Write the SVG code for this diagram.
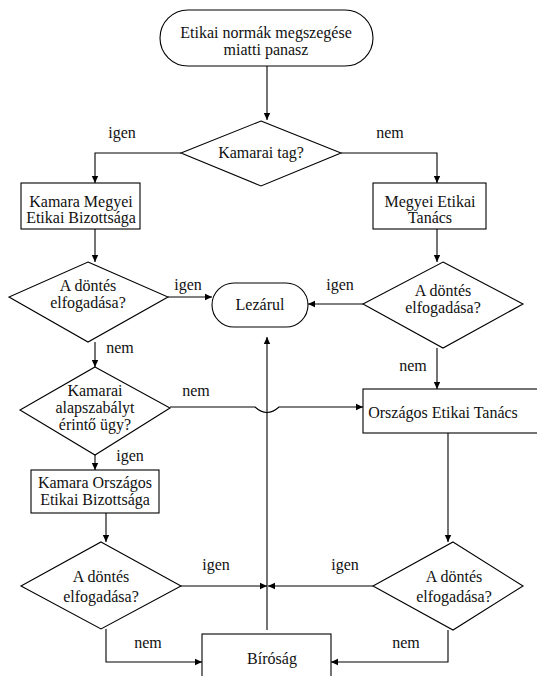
<svg xmlns="http://www.w3.org/2000/svg" width="537" height="676" viewBox="0 0 537 676">
<defs>
<marker id="ah" markerWidth="8" markerHeight="8" refX="7" refY="4" orient="auto" markerUnits="userSpaceOnUse">
<path d="M0,0.8 L7,4 L0,7.2 Z" fill="#000"/>
</marker>
<style>
.s{fill:#fff;stroke:#000;stroke-width:1.1}
.c{fill:none;stroke:#000;stroke-width:1.1}
text{font-family:"Liberation Serif","Times New Roman",serif;font-size:16px;fill:#111;text-anchor:middle}
</style>
</defs>
<rect width="537" height="676" fill="#fff"/>
<g id="connectors">
<path class="c" d="M267,66 V120" marker-end="url(#ah)"/>
<path class="c" d="M181,153 H95 V183" marker-end="url(#ah)"/>
<path class="c" d="M341,153 H437 V183" marker-end="url(#ah)"/>
<path class="c" d="M95,229 V262" marker-end="url(#ah)"/>
<path class="c" d="M437,229 V262" marker-end="url(#ah)"/>
<path class="c" d="M168,297 H212" marker-end="url(#ah)"/>
<path class="c" d="M363,304 H308" marker-end="url(#ah)"/>
<path class="c" d="M95,342 V367" marker-end="url(#ah)"/>
<path class="c" d="M437,348 V389" marker-end="url(#ah)"/>
<path class="c" d="M170,407 H255 Q267,418 279,407 H363" marker-end="url(#ah)"/>
<path class="c" d="M95,455 V470" marker-end="url(#ah)"/>
<path class="c" d="M106,513 V542" marker-end="url(#ah)"/>
<path class="c" d="M448,433 V542" marker-end="url(#ah)"/>
<path class="c" d="M181,586 H267" marker-end="url(#ah)"/>
<path class="c" d="M373,586 H268" marker-end="url(#ah)"/>
<path class="c" d="M267,630 V337" marker-end="url(#ah)"/>
<path class="c" d="M106,629 V662 H202" marker-end="url(#ah)"/>
<path class="c" d="M448,630 V662 H331" marker-end="url(#ah)"/>
</g>
<g id="labels">
<text x="122" y="138">igen</text>
<text x="390" y="138">nem</text>
<text x="188" y="290">igen</text>
<text x="340" y="290">igen</text>
<text x="120" y="353">nem</text>
<text x="413" y="371">nem</text>
<text x="196" y="396">nem</text>
<text x="130" y="461">igen</text>
<text x="216" y="570">igen</text>
<text x="345" y="570">igen</text>
<text x="148" y="648">nem</text>
<text x="406" y="648">nem</text>
</g>
<g id="start">
<rect class="s" x="160" y="10" width="213" height="56" rx="28"/>
<text x="266" y="38">Etikai normák megszegése</text>
<text x="266" y="55">miatti panasz</text>
</g>
<g id="kamarai-tag">
<path class="s" d="M261,121 L341,153 L261,186 L181,153 Z"/>
<text x="261" y="158">Kamarai tag?</text>
</g>
<g id="kamara-megyei">
<rect class="s" x="21" y="183" width="119" height="46"/>
<text x="81" y="207">Kamara Megyei</text>
<text x="81" y="223">Etikai Bizottsága</text>
</g>
<g id="megyei-etikai">
<rect class="s" x="373" y="183" width="113" height="46"/>
<text x="430" y="207">Megyei Etikai</text>
<text x="430" y="223">Tanács</text>
</g>
<g id="dontes-1">
<path class="s" d="M88,262 L168,297 L88,342 L9,297 Z"/>
<text x="88" y="291">A döntés</text>
<text x="88" y="308">elfogadása?</text>
</g>
<g id="lezarul">
<rect class="s" x="212" y="283" width="96" height="44" rx="22"/>
<text x="260" y="310">Lezárul</text>
</g>
<g id="dontes-2">
<path class="s" d="M443,262 L523,304 L443,348 L363,304 Z"/>
<text x="443" y="296">A döntés</text>
<text x="443" y="313">elfogadása?</text>
</g>
<g id="alapszabaly">
<path class="s" d="M95,367 L170,408 L95,455 L20,410 Z"/>
<text x="95" y="396">Kamarai</text>
<text x="95" y="413">alapszabályt</text>
<text x="95" y="430">érintő ügy?</text>
</g>
<g id="orszagos-etikai">
<rect class="s" x="363" y="389" width="176" height="44"/>
<text x="443" y="418">Országos Etikai Tanács</text>
</g>
<g id="kamara-orszagos">
<rect class="s" x="31" y="470" width="128" height="43"/>
<text x="95" y="488">Kamara Országos</text>
<text x="95" y="505">Etikai Bizottsága</text>
</g>
<g id="dontes-3">
<path class="s" d="M101,542 L181,586 L101,629 L21,586 Z"/>
<text x="101" y="582">A döntés</text>
<text x="101" y="602">elfogadása?</text>
</g>
<g id="dontes-4">
<path class="s" d="M453,542 L523,586 L453,630 L373,586 Z"/>
<text x="454" y="582">A döntés</text>
<text x="454" y="602">elfogadása?</text>
</g>
<g id="birosag">
<rect class="s" x="202" y="634" width="129" height="50"/>
<text x="272" y="664">Bíróság</text>
</g>
</svg>
